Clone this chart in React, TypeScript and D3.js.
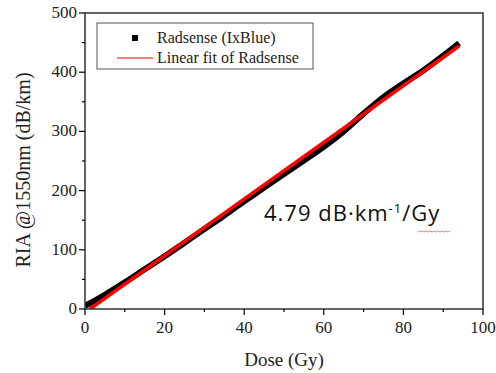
import React from 'react'
import * as d3 from 'd3'

const dose = [0, 5, 10, 15, 20, 25, 30, 35, 40, 45, 50, 55, 60, 65, 70, 75, 80, 85, 90, 94]
const ria = [5, 24, 45, 67, 89, 112, 135, 158, 182, 205, 228, 251, 274, 300, 330, 358, 381, 403, 428, 449]
const slope = 4.79
const intercept = -6
const fitRange = [1.25, 94]
const xTicks = [0, 20, 40, 60, 80, 100]
const yTicks = [0, 100, 200, 300, 400, 500]
const legendLabels = ['Radsense (IxBlue)', 'Linear fit of Radsense']

const width = 496
const height = 373
const margin = { left: 85, top: 13, right: 13, bottom: 64 }

export default function App() {
  const x = d3.scaleLinear().domain([0, 100]).range([margin.left, width - margin.right])
  const y = d3.scaleLinear().domain([0, 500]).range([height - margin.bottom, margin.top])

  const data = dose.map((d, i) => ({ d, v: ria[i] }))
  const line = d3
    .line<{ d: number; v: number }>()
    .x(p => x(p.d))
    .y(p => y(p.v))
    .curve(d3.curveMonotoneX)
  const fit = fitRange.map(d => ({ d, v: slope * d + intercept }))

  const x0 = x(0)
  const x1 = x(100)
  const y0 = y(0)
  const y1 = y(500)
  const minorX = d3.range(10, 100, 20)
  const minorY = d3.range(50, 500, 100)
  const serif = '"Liberation Serif", "Times New Roman", serif'

  // spell-check squiggle under "Gy"
  const squiggle = d3.range(0, 34, 2).map(i => [418 + i, 231 + (i % 4 === 0 ? 0 : 1)] as [number, number])

  return (
    <svg width={width} height={height} style={{ position: 'absolute', left: 0, top: 0, background: '#fff' }}>
      <rect width={width} height={height} fill="#fff" />
      <defs>
        <clipPath id="plot">
          <rect x={x0} y={y1} width={x1 - x0} height={y0 - y1} />
        </clipPath>
      </defs>

      <g clipPath="url(#plot)">
        <path d={line(data) ?? ''} fill="none" stroke="#000" strokeWidth={6} strokeLinejoin="round" />
        <path d={line(fit) ?? ''} fill="none" stroke="#f00" strokeWidth={3.5} />
      </g>

      {/* frame */}
      <rect x={x0} y={y1} width={x1 - x0} height={y0 - y1} fill="none" stroke="#333" strokeWidth={1.5} />

      {/* y axis */}
      {yTicks.map(t => (
        <g key={'y' + t}>
          <line x1={x0 - 6} x2={x0} y1={y(t)} y2={y(t)} stroke="#000" strokeWidth={1.2} />
          <text x={x0 - 8} y={y(t) + 5} textAnchor="end" fontFamily={serif} fontSize={17} fill="#222">
            {t}
          </text>
        </g>
      ))}
      {minorY.map(t => (
        <line key={'my' + t} x1={x0 - 3} x2={x0} y1={y(t)} y2={y(t)} stroke="#000" strokeWidth={1.2} />
      ))}

      {/* x axis */}
      {xTicks.map(t => (
        <g key={'x' + t}>
          <line x1={x(t)} x2={x(t)} y1={y0} y2={y0 + 6} stroke="#000" strokeWidth={1.2} />
          <text x={x(t)} y={y0 + 24} textAnchor="middle" fontFamily={serif} fontSize={17} fill="#222">
            {t}
          </text>
        </g>
      ))}
      {minorX.map(t => (
        <line key={'mx' + t} x1={x(t)} x2={x(t)} y1={y0} y2={y0 + 3} stroke="#000" strokeWidth={1.2} />
      ))}

      <text x={284} y={366} textAnchor="middle" fontFamily={serif} fontSize={19} fill="#222">
        Dose (Gy)
      </text>
      <text
        transform="translate(30,170) rotate(-90)"
        textAnchor="middle"
        fontFamily={serif}
        fontSize={20}
        fill="#222"
      >
        RIA @1550nm (dB/km)
      </text>

      {/* legend */}
      <rect x={97} y={23} width={216} height={46} fill="#fff" stroke="#555" strokeWidth={1} />
      <rect x={132} y={35} width={6} height={6} fill="#000" />
      <text x={157} y={43} fontFamily={serif} fontSize={16} fill="#222">
        {legendLabels[0]}
      </text>
      <line x1={117} x2={153} y1={58} y2={58} stroke="#e00" strokeWidth={1} />
      <text x={157} y={63} fontFamily={serif} fontSize={16} fill="#222">
        {legendLabels[1]}
      </text>

      {/* slope annotation */}
      <text x={264} y={221} fontFamily='"Open Sans", "Noto Sans", sans-serif' fontSize={22} letterSpacing={1} fill="#111">
        4.79 dB·km<tspan dy={-8} fontSize={13}>-1</tspan>
        <tspan dy={8}>/Gy</tspan>
      </text>
      <path d={d3.line()(squiggle) ?? ''} fill="none" stroke="#e06060" strokeWidth={0.8} />
    </svg>
  )
}
